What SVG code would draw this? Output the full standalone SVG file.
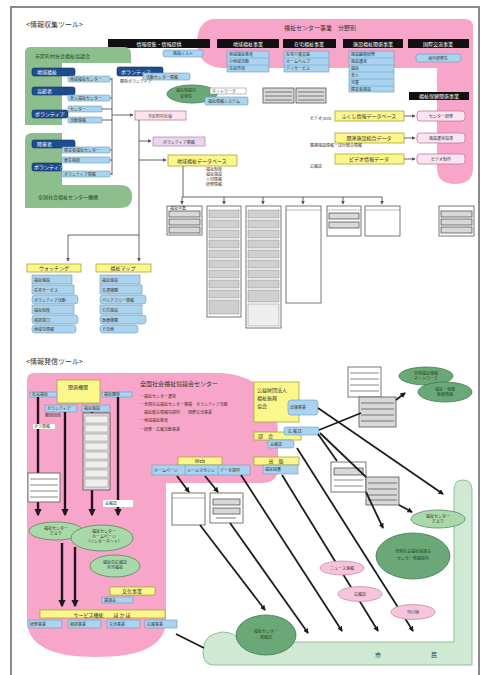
<svg xmlns="http://www.w3.org/2000/svg" width="482" height="675" viewBox="0 0 482 675">
<defs>
<marker id="a" viewBox="0 0 6 6" refX="5" refY="3" markerWidth="4" markerHeight="4" orient="auto"><path d="M0,0 L6,3 L0,6 Z" fill="#555"/></marker>
<marker id="b" viewBox="0 0 6 6" refX="5" refY="3" markerWidth="3" markerHeight="3" orient="auto"><path d="M0,0 L6,3 L0,6 Z" fill="#1a1a1a"/></marker>
<style>
text{font-family:"Noto Sans CJK JP","Noto Sans",sans-serif;fill:#333}
.s4{font-size:4px}.s5{font-size:5px}.s6{font-size:6px}.s7{font-size:7px}
.wt{fill:#fff}
.gt{fill:#1f4a22}
.bar{fill:#111}
.lb{fill:#a9d3ee;stroke:#6b9cc4;stroke-width:0.6}
.nav{fill:#1e4d8f;stroke:#0e2f60;stroke-width:0.6}
.yl{fill:#fbf78a;stroke:#a9a53a;stroke-width:0.8}
.pk{fill:#f7a6c9}
.pkb{fill:#fbe4f0;stroke:#c27aa0;stroke-width:0.8}
.lav{fill:#ecd3ee;stroke:#b58fb8;stroke-width:0.8}
.gr{fill:#8dbf8e}
.box{fill:#fff;stroke:#555;stroke-width:0.8}
.gbox{fill:#d8d8d8;stroke:#555;stroke-width:0.8}
.row{fill:#9a9a9a}
.ln{stroke:#555;stroke-width:0.9;fill:none}
.th{stroke:#1e1e1e;stroke-width:1.8;fill:none}
.tv{stroke:#2a0f1f;stroke-width:2.4;fill:none}
.ell{fill:#6aa878;stroke:#3f7a4f;stroke-width:0.8}
.ell2{fill:#a9d9ab;stroke:#4f8a5c;stroke-width:0.8}
.pe{fill:#f6c5dc;stroke:#c98aa8;stroke-width:0.8}
</style>
</defs>
<rect x="0" y="0" width="482" height="675" fill="#fff"/>
<rect x="11" y="7" width="468" height="690" fill="none" stroke="#8a8a8a" stroke-width="2"/>

<!-- ===== TOP SECTION ===== -->
<text x="26" y="27" class="s7" fill="#666">&lt;情報収集ツール&gt;</text>

<g id="center-pink">
<path class="pk" d="M213,19 L465,19 Q473,19 473,27 L473,168 Q473,184 455,184 Q437,184 437,168 L437,68 L222,68 Q197,66 197,42 Q198,21 213,19 Z"/>
<text x="284" y="30" class="s6">福祉センター事業　分野別</text>
</g>

<g id="bars">
<rect class="bar" x="108" y="39" width="102" height="9"/><text x="159" y="45.5" class="s5 wt" text-anchor="middle">情報収集・情報提供</text>
<rect class="bar" x="217" y="39" width="62" height="9"/><text x="248" y="45.5" class="s5 wt" text-anchor="middle">地域福祉事業</text>
<rect class="bar" x="283" y="39" width="53" height="9"/><text x="309" y="45.5" class="s5 wt" text-anchor="middle">在宅福祉事業</text>
<rect class="bar" x="343" y="39" width="60" height="9"/><text x="373" y="45.5" class="s5 wt" text-anchor="middle">施設福祉関係事業</text>
<rect class="bar" x="408" y="39" width="61" height="9"/><text x="438" y="45.5" class="s5 wt" text-anchor="middle">国際交流事業</text>
</g>

<g id="bar-cells">
<rect class="lb" x="163" y="50" width="40" height="7" rx="2"/><text x="183" y="55" class="s4" text-anchor="middle">施設リスト</text>
<rect class="lb" x="227" y="51" width="42" height="21"/>
<line x1="227" y1="58" x2="269" y2="58" stroke="#6b9cc4" stroke-width="0.5"/><line x1="227" y1="65" x2="269" y2="65" stroke="#6b9cc4" stroke-width="0.5"/>
<text x="229" y="56" class="s4">地域福祉推進</text><text x="229" y="63" class="s4">小地域活動</text><text x="229" y="70" class="s4">住民参加</text>
<rect class="lb" x="284" y="51" width="45" height="21"/>
<line x1="284" y1="58" x2="329" y2="58" stroke="#6b9cc4" stroke-width="0.5"/><line x1="284" y1="65" x2="329" y2="65" stroke="#6b9cc4" stroke-width="0.5"/>
<text x="286" y="56" class="s4">在宅介護支援</text><text x="286" y="63" class="s4">ホームヘルプ</text><text x="286" y="70" class="s4">デイサービス</text>
<rect class="lb" x="349" y="51" width="45" height="41"/>
<line x1="349" y1="58" x2="394" y2="58" stroke="#6b9cc4" stroke-width="0.5"/><line x1="349" y1="65" x2="394" y2="65" stroke="#6b9cc4" stroke-width="0.5"/><line x1="349" y1="72" x2="394" y2="72" stroke="#6b9cc4" stroke-width="0.5"/><line x1="349" y1="79" x2="394" y2="79" stroke="#6b9cc4" stroke-width="0.5"/><line x1="349" y1="86" x2="394" y2="86" stroke="#6b9cc4" stroke-width="0.5"/>
<text x="351" y="56" class="s4">施設職員研修</text><text x="351" y="63" class="s4">施設運営</text><text x="351" y="70" class="s4">福祉</text><text x="351" y="77" class="s4">老人</text><text x="351" y="84" class="s4">児童</text><text x="351" y="90.5" class="s4">障害者施設</text>
<rect class="lb" x="416" y="54" width="45" height="8" rx="3"/><text x="438" y="59.5" class="s4" text-anchor="middle">海外研修生</text>
</g>

<g id="green-local">
<path class="gr" d="M25,52 Q25,47 31,47 L124,47 Q131,47 131,54 L131,63 L62,63 L62,125 L25,125 Z"/>
<text x="35" y="58" class="s5 gt">市区町村社会福祉協議会</text>
</g>
<g id="green-national">
<path class="gr" d="M25,140 Q25,133 32,133 L62,133 L62,185 L120,185 Q132,185 132,196.5 Q132,208 120,208 L25,208 Z"/>
<text x="38" y="199" class="s5 gt">全国社会福祉センター機構</text>
</g>

<g id="nav-boxes">
<rect class="nav" x="32" y="68" width="43" height="8" rx="2"/><text x="37" y="74" class="s5 wt">地域福祉</text>
<rect class="lb" x="68" y="76" width="42" height="6" rx="1"/><text x="70" y="80.5" class="s4">地域福祉センター</text>
<rect class="nav" x="32" y="87" width="43" height="8" rx="2"/><text x="37" y="93" class="s5 wt">高齢者</text>
<rect class="lb" x="68" y="95" width="42" height="6" rx="1"/><text x="70" y="99.5" class="s4">老人福祉センター</text>
<rect class="nav" x="32" y="110" width="36" height="8" rx="2"/><text x="35" y="116" class="s5 wt">ボランティア</text>
<rect class="lb" x="68" y="106" width="34" height="6" rx="1"/><text x="70" y="110.5" class="s4">センター</text>
<rect class="lb" x="68" y="117" width="34" height="6" rx="1"/><text x="70" y="121.5" class="s4">活動情報</text>
<rect class="nav" x="32" y="140" width="43" height="8" rx="2"/><text x="37" y="146" class="s5 wt">障害者</text>
<rect class="lb" x="62" y="147" width="48" height="6" rx="1"/><text x="64" y="151.5" class="s4">障害者福祉センター</text>
<rect class="lb" x="62" y="157" width="48" height="6" rx="1"/><text x="64" y="161.5" class="s4">更生相談</text>
<rect class="nav" x="32" y="163" width="30" height="8" rx="2"/><text x="34" y="169" class="s5 wt">ボランティア</text>
<rect class="lb" x="62" y="171" width="48" height="6" rx="1"/><text x="64" y="175.5" class="s4">ボランティア情報</text>
<rect class="nav" x="117" y="67" width="46" height="9" rx="2"/><text x="121" y="73.5" class="s5 wt">ボランティア</text>
<rect class="lb" x="143" y="73" width="47" height="7" rx="1"/><text x="146" y="78.5" class="s4">活動センター情報</text>
<text x="120" y="83" class="s4">関係ボランティア</text>
</g>

<g id="welfare-info">
<ellipse class="ell" cx="192" cy="94" rx="25" ry="9"/>
<text x="176" y="92" class="s4 gt">福祉情報の</text><text x="180" y="98" class="s4 gt">受発信</text>
<rect x="210" y="88" width="36" height="6" fill="#fff" stroke="#777" stroke-width="0.5"/><text x="212" y="92.5" class="s4">ネットワーク</text>
<rect class="lb" x="205" y="97" width="43" height="8" rx="1"/><text x="208" y="102.5" class="s4">福祉情報システム</text>
</g>
<g id="gray-boxes-top">
<rect class="gbox" x="263" y="88" width="31" height="15"/><line x1="265" y1="92" x2="292" y2="92" stroke="#777"/><line x1="265" y1="96" x2="292" y2="96" stroke="#777"/><line x1="265" y1="100" x2="292" y2="100" stroke="#777"/>
<rect class="gbox" x="296" y="88" width="30" height="15"/><line x1="298" y1="92" x2="324" y2="92" stroke="#777"/><line x1="298" y1="96" x2="324" y2="96" stroke="#777"/><line x1="298" y1="100" x2="324" y2="100" stroke="#777"/>
</g>

<g id="health-projects">
<rect class="bar" x="409" y="92" width="60" height="8"/><text x="439" y="98" class="s5 wt" text-anchor="middle">福祉保健関係事業</text>
<rect class="yl" x="335" y="111" width="69" height="10"/><text x="369" y="117.5" class="s5" text-anchor="middle">ふくし情報データベース</text>
<rect class="pkb" x="417" y="111" width="48" height="10" rx="3"/><text x="441" y="117.5" class="s4" text-anchor="middle">センター研修</text>
<text x="310" y="120" class="s4">ビデオ/DVD</text>
<rect class="yl" x="335" y="133" width="69" height="10"/><text x="369" y="139.5" class="s5" text-anchor="middle">関連施設総合データ</text>
<rect class="pkb" x="417" y="133" width="48" height="10" rx="3"/><text x="441" y="139.5" class="s4" text-anchor="middle">施設運営指導</text>
<text x="310" y="147" class="s4">関連施設情報・ほか総合情報</text>
<rect class="yl" x="335" y="154" width="69" height="10"/><text x="369" y="160.5" class="s5" text-anchor="middle">ビデオ情報データ</text>
<rect class="pkb" x="417" y="154" width="48" height="10" rx="3"/><text x="441" y="160.5" class="s4" text-anchor="middle">ビデオ制作</text>
<text x="310" y="168" class="s4">広報誌</text>
</g>

<g id="hub">
<rect class="pkb" x="135" y="111" width="51" height="9"/><text x="160" y="117.5" class="s4" text-anchor="middle">市区町村社協</text>
<rect class="lav" x="153" y="137" width="52" height="9"/><text x="179" y="143.5" class="s4" text-anchor="middle">ボランティア情報</text>
<rect class="yl" x="168" y="155" width="69" height="11"/><text x="202" y="162.5" class="s5" text-anchor="middle">地域福祉データベース</text>
<text x="206" y="171" class="s4">福祉制度</text><text x="206" y="176" class="s4">福祉施設</text><text x="206" y="181" class="s4">人材情報</text><text x="206" y="186" class="s4">研修情報</text>
</g>

<g id="out-boxes">
<rect class="box" x="167" y="206" width="35" height="29"/><rect class="gbox" x="169" y="211" width="31" height="6"/><rect class="gbox" x="169" y="219" width="31" height="6"/><rect class="gbox" x="169" y="227" width="31" height="6"/>
<text x="170" y="210" class="s4">福祉年鑑</text>
<rect class="box" x="207" y="206" width="34" height="111"/>
<g fill="#cfcfcf" stroke="#777" stroke-width="0.4">
<rect x="209" y="210" width="30" height="8"/><rect x="209" y="220" width="30" height="8"/><rect x="209" y="230" width="30" height="8"/><rect x="209" y="240" width="30" height="8"/><rect x="209" y="250" width="30" height="8"/><rect x="209" y="260" width="30" height="8"/><rect x="209" y="270" width="30" height="8"/><rect x="209" y="280" width="30" height="8"/><rect x="209" y="290" width="30" height="8"/><rect x="209" y="300" width="30" height="14"/>
</g>
<rect class="box" x="246" y="206" width="35" height="122"/>
<g fill="#cfcfcf" stroke="#777" stroke-width="0.4">
<rect x="248" y="210" width="31" height="8"/><rect x="248" y="220" width="31" height="8"/><rect x="248" y="230" width="31" height="8"/><rect x="248" y="240" width="31" height="8"/><rect x="248" y="250" width="31" height="8"/><rect x="248" y="260" width="31" height="8"/><rect x="248" y="270" width="31" height="8"/><rect x="248" y="280" width="31" height="8"/><rect x="248" y="290" width="31" height="12"/><rect x="248" y="304" width="31" height="22" fill="#eee"/>
</g>
<rect class="box" x="286" y="206" width="35" height="97"/><line x1="286" y1="210" x2="321" y2="210" stroke="#777" stroke-width="0.5"/>
<rect class="box" x="327" y="206" width="34" height="30"/><line x1="327" y1="210" x2="361" y2="210" stroke="#777" stroke-width="0.5"/><rect class="gbox" x="329" y="213" width="30" height="6"/><rect class="gbox" x="329" y="222" width="30" height="6"/>
<rect class="box" x="365" y="206" width="35" height="30"/><line x1="365" y1="210" x2="400" y2="210" stroke="#777" stroke-width="0.5"/>
<rect class="box" x="439" y="206" width="35" height="30"/><rect class="gbox" x="441" y="211" width="31" height="6"/><rect class="gbox" x="441" y="219" width="31" height="6"/><rect class="gbox" x="441" y="227" width="31" height="6"/>
</g>

<g id="lists-bottom">
<rect class="yl" x="27" y="264" width="54" height="8"/><text x="54" y="270" class="s5" text-anchor="middle">ウォッチング</text>
<rect class="yl" x="96" y="264" width="55" height="8"/><text x="123" y="270" class="s5" text-anchor="middle">福祉マップ</text>
<g>
<rect class="lb" x="32" y="275" width="40" height="9"/><rect class="lb" x="32" y="285" width="42" height="9"/><rect class="lb" x="32" y="295" width="46" height="9" rx="3"/><rect class="lb" x="32" y="305" width="42" height="9"/><rect class="lb" x="32" y="315" width="46" height="9" rx="3"/><rect class="lb" x="32" y="325" width="44" height="8" rx="3"/>
<text x="34" y="281.5" class="s4">福祉施設</text><text x="34" y="291.5" class="s4">在宅サービス</text><text x="34" y="301.5" class="s4">ボランティア活動</text><text x="34" y="311.5" class="s4">福祉制度</text><text x="34" y="321.5" class="s4">相談窓口</text><text x="34" y="331" class="s4">地域の情報</text>
<rect class="lb" x="100" y="275" width="40" height="9"/><rect class="lb" x="100" y="285" width="42" height="9"/><rect class="lb" x="100" y="295" width="46" height="9" rx="3"/><rect class="lb" x="100" y="305" width="42" height="9"/><rect class="lb" x="100" y="315" width="46" height="9" rx="3"/><rect class="lb" x="100" y="325" width="38" height="8" rx="3"/>
<text x="102" y="281.5" class="s4">福祉施設</text><text x="102" y="291.5" class="s4">交通機関</text><text x="102" y="301.5" class="s4">バリアフリー情報</text><text x="102" y="311.5" class="s4">公共施設</text><text x="102" y="321.5" class="s4">医療機関</text><text x="102" y="331" class="s4">その他</text>
</g>
</g>

<g id="connectors-top">
<path class="ln" d="M110,79 H112 M110,98 H112 M102,109 H112 M102,120 H112 M110,150 H112 M110,160 H112 M110,174 H112 M112,78 V175"/>
<path class="ln" d="M112,115 H133" marker-end="url(#a)"/>
<path class="ln" d="M139,120 V261" marker-end="url(#a)"/>
<path class="ln" d="M139,141 H151" marker-end="url(#a)"/>
<path class="ln" d="M139,160 H166" marker-end="url(#a)"/>
<path class="ln" d="M139,235 H68 V261" marker-end="url(#a)"/>
<path class="ln" d="M183,166 V197 M182,197 H382"/>
<path class="ln" d="M182,197 V204" marker-end="url(#a)"/>
<path class="ln" d="M224,197 V204" marker-end="url(#a)"/>
<path class="ln" d="M263,197 V204" marker-end="url(#a)"/>
<path class="ln" d="M303,197 V204" marker-end="url(#a)"/>
<path class="ln" d="M343,197 V204" marker-end="url(#a)"/>
<path class="ln" d="M382,197 V204" marker-end="url(#a)"/>
<path class="ln" d="M404,116 H415" marker-end="url(#a)"/>
<path class="ln" d="M404,138 H415" marker-end="url(#a)"/>
<path class="ln" d="M404,159 H415" marker-end="url(#a)"/>
</g>

<!-- ===== BOTTOM SECTION ===== -->
<text x="26" y="364" class="s7" fill="#666">&lt;情報発信ツール&gt;</text>

<g id="ground">
<path d="M454,490 Q454,480 463,480 Q472,480 472,490 L472,665 L214,665 Q203,665 203,652 Q203,634 222,632 Q236,632 240,642 L454,642 Z" fill="#cfe9d2" stroke="#8fbf98" stroke-width="1"/>
<text x="375" y="657" class="s6">市</text><text x="431" y="657" class="s6">民</text>
</g>

<g id="nat-center">
<path class="pk" d="M27,380 Q27,373 34,373 L222,373 Q258,376 272,400 Q278,412 278,440 L278,468 Q278,483 262,483 L166,483 L166,620 Q166,657 96,657 Q27,657 27,620 Z"/>
<text x="140" y="386" class="s6">全国社会福祉協議会センター</text>
<text x="140" y="398" class="s4">・福祉センター運営</text>
<text x="140" y="406" class="s4">・全国社会福祉センター機構　ボランティア活動</text>
<text x="140" y="414" class="s4">　福祉総合情報の提供　　国際交流事業</text>
<text x="140" y="422" class="s4">・地域福祉推進</text>
<text x="140" y="431" class="s4">・研修・広報活動事業</text>
</g>

<g id="org-box">
<rect class="yl" x="57" y="380" width="43" height="23"/><text x="78" y="389" class="s5" text-anchor="middle">関係機関</text>
<rect class="lb" x="30" y="392" width="27" height="5"/><text x="32" y="396" class="s4">社会福祉</text>
<rect class="lb" x="102" y="392" width="30" height="5"/><text x="104" y="396" class="s4">福祉関係</text>
<rect class="lb" x="45" y="405" width="32" height="7"/><text x="47" y="410" class="s4">ボランティア</text>
<rect class="lb" x="82" y="405" width="28" height="7"/><text x="84" y="410" class="s4">福祉施設</text>
<text x="45" y="417" class="s4">関係団体</text>
</g>

<g id="dark-arrows">
<path class="tv" d="M38,397 V515" marker-end="url(#b)"/>
<path class="tv" d="M65,412 V515" marker-end="url(#b)"/>
<path class="tv" d="M92,412 V515" marker-end="url(#b)"/>
<path class="tv" d="M118,397 V515" marker-end="url(#b)"/>
<path class="tv" d="M62,543 V606" marker-end="url(#b)"/>
<path class="tv" d="M75,547 V606" marker-end="url(#b)"/>
</g>

<g id="pink-overlays">
<rect x="33" y="424" width="22" height="5" fill="#fff"/><text x="34" y="428" class="s4">ボラ情報</text>
<rect class="gbox" x="83" y="413" width="27" height="77"/>
<g fill="#eee" stroke="#777" stroke-width="0.4"><rect x="85" y="416" width="23" height="7"/><rect x="85" y="425" width="23" height="7"/><rect x="85" y="434" width="23" height="7"/><rect x="85" y="443" width="23" height="7"/><rect x="85" y="452" width="23" height="7"/><rect x="85" y="461" width="23" height="7"/><rect x="85" y="470" width="23" height="7"/><rect x="85" y="479" width="23" height="8"/></g>
<rect class="box" x="28" y="473" width="32" height="29"/><line x1="30" y1="479" x2="58" y2="479" stroke="#888"/><line x1="30" y1="485" x2="58" y2="485" stroke="#888"/><line x1="30" y1="491" x2="58" y2="491" stroke="#888"/><line x1="30" y1="497" x2="58" y2="497" stroke="#888"/>
<rect x="103" y="500" width="30" height="7" fill="#fff"/><text x="105" y="505" class="s4">会報誌</text>
</g>

<g id="ell-inner">
<ellipse class="ell2" cx="56" cy="531" rx="27" ry="9"/><text x="56" y="530" class="s4" text-anchor="middle">福祉センター</text><text x="56" y="535" class="s4" text-anchor="middle">だより</text>
<ellipse class="ell2" cx="102" cy="538" rx="31" ry="13"/><text x="104" y="533" class="s4" text-anchor="middle">福祉センター</text><text x="104" y="538" class="s4" text-anchor="middle">ホームページ</text><text x="104" y="543" class="s4" text-anchor="middle">（インターネット）</text>
<ellipse class="ell2" cx="115" cy="566" rx="25" ry="11"/><text x="115" y="564" class="s4" text-anchor="middle">福祉の広報誌</text><text x="115" y="569" class="s4" text-anchor="middle">月刊福祉</text>
</g>

<g id="service">
<rect class="yl" x="110" y="587" width="45" height="8"/><text x="132" y="593" class="s5" text-anchor="middle">文化事業</text>
<rect class="lb" x="102" y="597" width="31" height="6"/><text x="104" y="601.5" class="s4">講演会</text>
<rect class="yl" x="40" y="610" width="125" height="8"/><text x="102" y="616.5" class="s5" text-anchor="middle">サービス機能　　ほ か ほ</text>
<rect class="lb" x="28" y="620" width="34" height="8"/><text x="30" y="625.5" class="s4">研修事業</text>
<rect class="lb" x="68" y="620" width="33" height="8"/><text x="70" y="625.5" class="s4">相談事業</text>
<rect class="lb" x="107" y="620" width="33" height="8"/><text x="109" y="625.5" class="s4">交流事業</text>
<rect class="lb" x="145" y="620" width="32" height="8"/><text x="147" y="625.5" class="s4">広報事業</text>
</g>

<g id="foundation">
<rect class="yl" x="254" y="382" width="45" height="40"/><text x="257" y="392" class="s5">公益財団法人</text><text x="257" y="400" class="s5">福祉振興</text><text x="257" y="408" class="s5">協会</text>
<rect class="lb" x="288" y="400" width="30" height="15" rx="3"/><text x="290" y="409" class="s4">出版事業</text>
<rect class="yl" x="254" y="432" width="47" height="8"/><text x="258" y="438" class="s5">部　会</text>
<rect class="lb" x="284" y="427" width="35" height="8" rx="2"/><text x="288" y="432.5" class="s4">広 報 誌</text>
<rect class="lb" x="268" y="440" width="26" height="8" rx="2"/><text x="270" y="445.5" class="s4">会報誌</text>
<rect class="yl" x="254" y="457" width="45" height="8"/><text x="276" y="463" class="s5" text-anchor="middle">出　版</text>
<rect class="lb" x="263" y="465" width="35" height="9"/><text x="265" y="471" class="s4">福祉図書</text>
<rect class="yl" x="178" y="457" width="44" height="8"/><text x="200" y="463" class="s5" text-anchor="middle">Web</text>
<rect class="lb" x="152" y="465" width="98" height="10"/><line x1="185" y1="465" x2="185" y2="475" stroke="#6b9cc4" stroke-width="0.6"/><line x1="218" y1="465" x2="218" y2="475" stroke="#6b9cc4" stroke-width="0.6"/>
<text x="154" y="471.5" class="s4">ホームページ</text><text x="187" y="471.5" class="s4">メールマガジン</text><text x="220" y="471.5" class="s4">データ提供</text>
</g>

<g id="media-boxes">
<rect class="box" x="172" y="493" width="33" height="32"/><line x1="172" y1="498" x2="205" y2="498" stroke="#777" stroke-width="0.6"/>
<rect class="box" x="210" y="493" width="33" height="30"/><rect class="gbox" x="213" y="499" width="27" height="6"/><rect class="gbox" x="213" y="508" width="27" height="6"/><line x1="216" y1="518" x2="236" y2="518" stroke="#777"/>
<rect class="box" x="348" y="367" width="33" height="30"/><line x1="350" y1="373" x2="379" y2="373" stroke="#888"/><line x1="350" y1="379" x2="379" y2="379" stroke="#888"/><line x1="350" y1="385" x2="379" y2="385" stroke="#888"/><line x1="350" y1="391" x2="379" y2="391" stroke="#888"/>
<rect class="gbox" x="359" y="397" width="37" height="30"/><line x1="361" y1="403" x2="394" y2="403" stroke="#777"/><line x1="361" y1="409" x2="394" y2="409" stroke="#777"/><line x1="361" y1="415" x2="394" y2="415" stroke="#777"/><line x1="361" y1="421" x2="394" y2="421" stroke="#777"/>
<rect class="box" x="331" y="462" width="35" height="30"/><rect class="gbox" x="334" y="468" width="29" height="7"/><line x1="334" y1="480" x2="363" y2="480" stroke="#888"/><line x1="334" y1="486" x2="363" y2="486" stroke="#888"/>
<rect class="gbox" x="366" y="477" width="33" height="28"/><line x1="368" y1="483" x2="397" y2="483" stroke="#777"/><line x1="368" y1="489" x2="397" y2="489" stroke="#777"/><line x1="368" y1="495" x2="397" y2="495" stroke="#777"/><line x1="368" y1="500" x2="397" y2="500" stroke="#777"/>
</g>

<g id="ellipses-right">
<ellipse class="ell" cx="426" cy="376" rx="27" ry="9"/><text x="426" y="375" class="s4 gt" text-anchor="middle">全国福祉情報</text><text x="426" y="380" class="s4 gt" text-anchor="middle">ネットワーク</text>
<ellipse class="ell" cx="445" cy="392" rx="27" ry="10"/><text x="445" y="391" class="s4 gt" text-anchor="middle">福祉・保健</text><text x="445" y="396" class="s4 gt" text-anchor="middle">医療情報</text>
<ellipse class="ell2" cx="438" cy="519" rx="27" ry="9"/><text x="438" y="518" class="s4" text-anchor="middle">福祉センター</text><text x="438" y="523" class="s4" text-anchor="middle">だより</text>
<ellipse class="ell" cx="413" cy="556" rx="37" ry="23"/><text x="413" y="553" class="s4 gt" text-anchor="middle">全国社会福祉協議会</text><text x="413" y="560" class="s4 gt" text-anchor="middle">センター情報提供</text>
<ellipse class="ell" cx="266" cy="635" rx="30" ry="20"/><text x="266" y="633" class="s4 gt" text-anchor="middle">福祉センター</text><text x="266" y="639" class="s4 gt" text-anchor="middle">情報誌</text>
</g>

<g id="connectors-bottom">
<path class="th" d="M177,476 L189,492" marker-end="url(#b)"/>
<path class="th" d="M205,476 L218,492" marker-end="url(#b)"/>
<path class="th" d="M200,525 L265,610" marker-end="url(#b)"/>
<path class="th" d="M230,523 L308,633" marker-end="url(#b)"/>
<path class="th" d="M241,475 L342,631" marker-end="url(#b)"/>
<path class="th" d="M282,475 L378,631" marker-end="url(#b)"/>
<path class="th" d="M297,448 L413,631" marker-end="url(#b)"/>
<path class="th" d="M318,408 L443,494" marker-end="url(#b)"/>
<path class="th" d="M318,434 L337,461"/>
<path class="th" d="M320,433 L366,477"/>
<path class="th" d="M319,430 L361,413"/>
<path class="th" d="M396,400 L405,393" marker-end="url(#b)"/>
<path class="th" d="M366,492 L383,528" marker-end="url(#b)"/>
<path class="th" d="M399,505 L412,512" marker-end="url(#b)"/>
<path class="th" d="M176,634 L204,648"/>
</g>

<g id="pink-ellipses">
<ellipse class="pe" cx="342" cy="568" rx="22" ry="7"/><text x="342" y="570" class="s4" text-anchor="middle">ニュース速報</text>
<ellipse class="pe" cx="360" cy="594" rx="22" ry="7.5"/><text x="360" y="596" class="s4" text-anchor="middle">広報誌</text>
<ellipse class="pe" cx="413" cy="612" rx="22" ry="7.5"/><text x="413" y="614" class="s4" text-anchor="middle">刊行物</text>
</g>
</svg>
